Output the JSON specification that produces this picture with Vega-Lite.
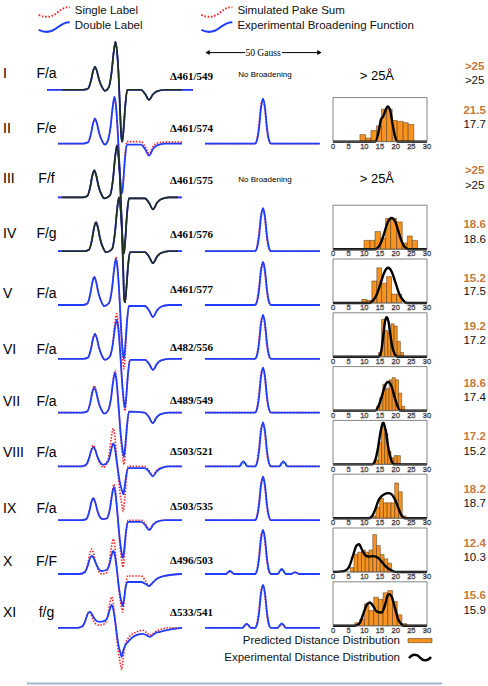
{
"$schema": "https://vega.github.io/schema/vega-lite/v6.json",
"padding": 0,
"background": "white",
"spacing": 9.8,
"bounds": "flush",
"config": {
 "view": {"stroke": null},
 "font": "Liberation Sans",
 "text": {"font": "Liberation Sans"},
 "style": {
  "red": {"strokeWidth": 1.6, "strokeDash": [1.5,1.5], "interpolate": "monotone"},
  "blue": {"strokeWidth": 1.8, "interpolate": "monotone"},
  "dark": {"strokeWidth": 1.6, "interpolate": "monotone"},
  "bar": {"strokeWidth": 0.5},
  "curve": {"strokeWidth": 2.4, "interpolate": "monotone"},
  "frame": {"fillOpacity": 0, "strokeWidth": 0.8},
  "num": {"fontSize": 14, "baseline": "middle", "align": "left"},
  "lab": {"fontSize": 14, "baseline": "middle", "align": "center"},
  "delta": {"font": "Liberation Serif", "fontWeight": "bold", "fontSize": 11, "baseline": "middle", "align": "center"},
  "org": {"fontSize": 11.5, "fontWeight": "bold", "baseline": "middle", "align": "center"},
  "blk": {"fontSize": 11.5, "baseline": "middle", "align": "center"},
  "tick": {"fontSize": 7.5, "strokeWidth": 0.45, "baseline": "middle", "align": "center"}
 }
},
"datasets": {
"rows": [
{"r":"I","lab":"F/a","delta":"Δ461/549","o":">25","b":">25","dist":"> 25Å","nb":"No Broadening"},
{"r":"II","lab":"F/e","delta":"Δ461/574","o":"21.5","b":"17.7"},
{"r":"III","lab":"F/f","delta":"Δ461/575","o":">25","b":">25","dist":"> 25Å","nb":"No Broadening"},
{"r":"IV","lab":"F/g","delta":"Δ461/576","o":"18.6","b":"18.6"},
{"r":"V","lab":"F/a","delta":"Δ461/577","o":"15.2","b":"17.5"},
{"r":"VI","lab":"F/a","delta":"Δ482/556","o":"19.2","b":"17.2"},
{"r":"VII","lab":"F/a","delta":"Δ489/549","o":"18.6","b":"17.4"},
{"r":"VIII","lab":"F/a","delta":"Δ503/521","o":"17.2","b":"15.2"},
{"r":"IX","lab":"F/a","delta":"Δ503/535","o":"18.2","b":"18.7"},
{"r":"X","lab":"F/F","delta":"Δ496/503","o":"12.4","b":"10.3"},
{"r":"XI","lab":"f/g","delta":"Δ533/541","o":"15.6","b":"15.9"}
],
"ticks": [{"t":0},{"t":5},{"t":10},{"t":15},{"t":20},{"t":25},{"t":30}],
"legendTop": [
{"grp":"spectra","n":"1","lbl":"Single Label"},
{"grp":"spectra","n":"2","lbl":"Double Label"},
{"grp":"broadening","n":"1","lbl":"Simulated Pake Sum"},
{"grp":"broadening","n":"2","lbl":"Experimental Broadening Function"}
],
"legendBottom": [
{"grp":"distance","n":"1","lbl":"Predicted Distance Distribution"},
{"grp":"distance","n":"2","lbl":"Experimental Distance Distribution"}
],
"spec": [
{"r":"I","x":-5.5,"s":0,"d":0},
{"r":"I","x":2,"s":0,"d":0,"f":0},
{"r":"I","x":12.5,"s":0,"d":0,"f":0},
{"r":"I","x":15,"s":0.12,"d":0.12,"f":0.12},
{"r":"I","x":16.5,"s":0.92,"d":0.92,"f":0.92},
{"r":"I","x":17.5,"s":1.84,"d":1.84,"f":1.84},
{"r":"I","x":18.5,"s":2.3,"d":2.3,"f":2.3},
{"r":"I","x":19.5,"s":1.84,"d":1.84,"f":1.84},
{"r":"I","x":20.5,"s":1.04,"d":1.04,"f":1.04},
{"r":"I","x":22,"s":0.28,"d":0.28,"f":0.28},
{"r":"I","x":23.5,"s":-0.1,"d":-0.1,"f":-0.1},
{"r":"I","x":25.25,"s":0.2,"d":0.2,"f":0.2},
{"r":"I","x":26.75,"s":1.68,"d":1.68,"f":1.68},
{"r":"I","x":27.75,"s":3.6,"d":3.6,"f":3.6},
{"r":"I","x":28.75,"s":4.8,"d":4.8,"f":4.8},
{"r":"I","x":29.5,"s":3.84,"d":3.84,"f":3.84},
{"r":"I","x":30.25,"s":1.68,"d":1.68,"f":1.68},
{"r":"I","x":31.2,"s":-2.86,"d":-2.86,"f":-2.86},
{"r":"I","x":31.65,"s":-4.68,"d":-4.68,"f":-4.68},
{"r":"I","x":32.15,"s":-5.2,"d":-5.2,"f":-5.2},
{"r":"I","x":32.9,"s":-3.64,"d":-3.64,"f":-3.64},
{"r":"I","x":33.65,"s":-1.56,"d":-1.56,"f":-1.56},
{"r":"I","x":34.65,"s":0,"d":0,"f":0},
{"r":"I","x":41.5,"s":0,"d":0,"f":0},
{"r":"I","x":43.5,"s":-0.4,"d":-0.4,"f":-0.4},
{"r":"I","x":45.5,"s":-1.0,"d":-1.0,"f":-1.0},
{"r":"I","x":47.5,"s":-0.45,"d":-0.45,"f":-0.45},
{"r":"I","x":49.5,"s":-0.15,"d":-0.15,"f":-0.15},
{"r":"I","x":53.5,"s":0,"d":0,"f":0},
{"r":"I","x":62,"s":0,"d":0,"f":0},
{"r":"I","x":67.5,"s":0,"d":0},
{"r":"II","x":0,"s":0,"d":0},
{"r":"II","x":12.5,"s":0,"d":0},
{"r":"II","x":15,"s":0.12,"d":0.12},
{"r":"II","x":16.5,"s":1.0,"d":1.0},
{"r":"II","x":17.5,"s":2.0,"d":2.0},
{"r":"II","x":18.5,"s":2.5,"d":2.5},
{"r":"II","x":19.5,"s":2.0,"d":2.0},
{"r":"II","x":20.5,"s":1.12,"d":1.12},
{"r":"II","x":22,"s":0.3,"d":0.3},
{"r":"II","x":23.5,"s":-0.1,"d":-0.1},
{"r":"II","x":24.75,"s":0.2,"d":0.2},
{"r":"II","x":26.25,"s":1.58,"d":1.65},
{"r":"II","x":27.25,"s":3.38,"d":3.52},
{"r":"II","x":28.25,"s":4.5,"d":4.7},
{"r":"II","x":29,"s":3.6,"d":3.76},
{"r":"II","x":29.75,"s":1.58,"d":1.65},
{"r":"II","x":30.9,"s":-2.75,"d":-2.75},
{"r":"II","x":31.5,"s":-4.5,"d":-4.5},
{"r":"II","x":32,"s":-5.0,"d":-5.0},
{"r":"II","x":32.75,"s":-3.5,"d":-3.5},
{"r":"II","x":33.5,"s":-1.2,"d":-1.5},
{"r":"II","x":34.5,"s":0.2,"d":-0.1},
{"r":"II","x":41.5,"s":0.2,"d":-0.1},
{"r":"II","x":43.5,"s":-0.28,"d":-0.54},
{"r":"II","x":45.5,"s":-1.0,"d":-1.2},
{"r":"II","x":47.5,"s":-0.3,"d":-0.54},
{"r":"II","x":49.5,"s":0.05,"d":-0.18},
{"r":"II","x":53.5,"s":0.15,"d":0},
{"r":"II","x":62,"s":0.15,"d":0},
{"r":"III","x":0,"s":0,"d":0},
{"r":"III","x":2,"s":0,"d":0,"f":0},
{"r":"III","x":12.15,"s":0,"d":0,"f":0},
{"r":"III","x":14.65,"s":0.14,"d":0.14,"f":0.14},
{"r":"III","x":16.15,"s":1.08,"d":1.08,"f":1.08},
{"r":"III","x":17.15,"s":2.16,"d":2.16,"f":2.16},
{"r":"III","x":18.15,"s":2.7,"d":2.7,"f":2.7},
{"r":"III","x":19.15,"s":2.16,"d":2.16,"f":2.16},
{"r":"III","x":20.15,"s":1.22,"d":1.22,"f":1.22},
{"r":"III","x":21.65,"s":0.32,"d":0.32,"f":0.32},
{"r":"III","x":23.15,"s":-0.1,"d":-0.1,"f":-0.1},
{"r":"III","x":26,"s":0.2,"d":0.2,"f":0.2},
{"r":"III","x":27.5,"s":1.82,"d":1.82,"f":1.82},
{"r":"III","x":28.5,"s":3.9,"d":3.9,"f":3.9},
{"r":"III","x":29.5,"s":5.2,"d":5.2,"f":5.2},
{"r":"III","x":30.25,"s":4.16,"d":4.16,"f":4.16},
{"r":"III","x":31,"s":1.82,"d":1.82,"f":1.82},
{"r":"III","x":32,"s":-3.08,"d":-3.08,"f":-3.08},
{"r":"III","x":32.5,"s":-5.04,"d":-5.04,"f":-5.04},
{"r":"III","x":33,"s":-5.6,"d":-5.6,"f":-5.6},
{"r":"III","x":33.75,"s":-3.92,"d":-3.92,"f":-3.92},
{"r":"III","x":34.5,"s":-1.68,"d":-1.68,"f":-1.68},
{"r":"III","x":35.5,"s":-0.1,"d":-0.1,"f":-0.1},
{"r":"III","x":43.5,"s":-0.1,"d":-0.1,"f":-0.1},
{"r":"III","x":45.5,"s":-0.54,"d":-0.54,"f":-0.54},
{"r":"III","x":47.5,"s":-1.2,"d":-1.2,"f":-1.2},
{"r":"III","x":49.5,"s":-0.54,"d":-0.54,"f":-0.54},
{"r":"III","x":51.5,"s":-0.18,"d":-0.18,"f":-0.18},
{"r":"III","x":55.5,"s":0,"d":0,"f":0},
{"r":"III","x":60,"s":0,"d":0,"f":0},
{"r":"III","x":62,"s":0,"d":0},
{"r":"IV","x":0,"s":0,"d":0},
{"r":"IV","x":2,"s":0,"d":0,"f":0},
{"r":"IV","x":13,"s":0,"d":0,"f":0},
{"r":"IV","x":15.5,"s":0.15,"d":0.15,"f":0.15},
{"r":"IV","x":17,"s":1.16,"d":1.16,"f":1.16},
{"r":"IV","x":18,"s":2.32,"d":2.32,"f":2.32},
{"r":"IV","x":19,"s":2.9,"d":2.9,"f":2.9},
{"r":"IV","x":20,"s":2.32,"d":2.32,"f":2.32},
{"r":"IV","x":21,"s":1.3,"d":1.3,"f":1.3},
{"r":"IV","x":22.5,"s":0.35,"d":0.35,"f":0.35},
{"r":"IV","x":24,"s":-0.1,"d":-0.1,"f":-0.1},
{"r":"IV","x":27,"s":0.2,"d":0.2,"f":0.2},
{"r":"IV","x":28.5,"s":1.89,"d":1.89,"f":1.89},
{"r":"IV","x":29.5,"s":4.05,"d":4.05,"f":4.05},
{"r":"IV","x":30.5,"s":5.4,"d":5.4,"f":5.4},
{"r":"IV","x":31.25,"s":4.32,"d":4.32,"f":4.32},
{"r":"IV","x":32,"s":1.89,"d":1.89,"f":1.89},
{"r":"IV","x":32.75,"s":-2.86,"d":-2.8,"f":-2.8},
{"r":"IV","x":33,"s":-4.68,"d":-4.59,"f":-4.59},
{"r":"IV","x":33.5,"s":-5.2,"d":-5.1,"f":-5.1},
{"r":"IV","x":34.25,"s":-3.64,"d":-3.57,"f":-3.57},
{"r":"IV","x":35,"s":-1.56,"d":-1.53,"f":-1.53},
{"r":"IV","x":36,"s":-0.1,"d":-0.1,"f":-0.1},
{"r":"IV","x":43.5,"s":-0.1,"d":-0.1,"f":-0.1},
{"r":"IV","x":45.5,"s":-0.54,"d":-0.54,"f":-0.54},
{"r":"IV","x":47.5,"s":-1.2,"d":-1.2,"f":-1.2},
{"r":"IV","x":49.5,"s":-0.54,"d":-0.54,"f":-0.54},
{"r":"IV","x":51.5,"s":-0.18,"d":-0.18,"f":-0.18},
{"r":"IV","x":55.5,"s":0,"d":0,"f":0},
{"r":"IV","x":60,"s":0,"d":0,"f":0},
{"r":"IV","x":62,"s":0,"d":0},
{"r":"V","x":0,"s":0,"d":0},
{"r":"V","x":12.15,"s":0,"d":0},
{"r":"V","x":14.65,"s":0.14,"d":0.14},
{"r":"V","x":16.15,"s":1.12,"d":1.12},
{"r":"V","x":17.15,"s":2.24,"d":2.24},
{"r":"V","x":18.15,"s":2.8,"d":2.8},
{"r":"V","x":19.15,"s":2.24,"d":2.24},
{"r":"V","x":20.15,"s":1.26,"d":1.26},
{"r":"V","x":21.65,"s":0.34,"d":0.34},
{"r":"V","x":23.15,"s":-0.1,"d":-0.1},
{"r":"V","x":25.5,"s":0.2,"d":0.2},
{"r":"V","x":27,"s":1.68,"d":1.61},
{"r":"V","x":28,"s":3.6,"d":3.45},
{"r":"V","x":29,"s":4.8,"d":4.6},
{"r":"V","x":29.75,"s":3.84,"d":3.68},
{"r":"V","x":30.5,"s":1.68,"d":1.61},
{"r":"V","x":31.75,"s":-3.52,"d":-2.97},
{"r":"V","x":32.5,"s":-5.76,"d":-4.86},
{"r":"V","x":33,"s":-6.4,"d":-5.4},
{"r":"V","x":33.75,"s":-4.48,"d":-3.78},
{"r":"V","x":34.5,"s":-1.92,"d":-1.62},
{"r":"V","x":35.5,"s":-0.1,"d":-0.1},
{"r":"V","x":43.5,"s":-0.1,"d":-0.1},
{"r":"V","x":45.5,"s":-0.54,"d":-0.54},
{"r":"V","x":47.5,"s":-1.2,"d":-1.2},
{"r":"V","x":49.5,"s":-0.54,"d":-0.54},
{"r":"V","x":51.5,"s":-0.18,"d":-0.18},
{"r":"V","x":55.5,"s":0,"d":0},
{"r":"V","x":62,"s":0,"d":0},
{"r":"VI","x":0,"s":0,"d":0},
{"r":"VI","x":12.5,"s":0,"d":0},
{"r":"VI","x":15,"s":0.12,"d":0.12},
{"r":"VI","x":16.5,"s":1.0,"d":1.0},
{"r":"VI","x":17.5,"s":2.0,"d":2.0},
{"r":"VI","x":18.5,"s":2.5,"d":2.5},
{"r":"VI","x":19.5,"s":2.0,"d":2.0},
{"r":"VI","x":20.5,"s":1.12,"d":1.12},
{"r":"VI","x":22,"s":0.3,"d":0.3},
{"r":"VI","x":23.5,"s":-0.1,"d":-0.1},
{"r":"VI","x":25.85,"s":0.2,"d":0.2},
{"r":"VI","x":27.35,"s":1.58,"d":1.37},
{"r":"VI","x":28.35,"s":3.38,"d":2.93},
{"r":"VI","x":29.35,"s":4.5,"d":3.9},
{"r":"VI","x":30.1,"s":3.6,"d":3.12},
{"r":"VI","x":30.85,"s":1.58,"d":1.37},
{"r":"VI","x":32.2,"s":-2.86,"d":-2.7},
{"r":"VI","x":33,"s":-4.68,"d":-4.41},
{"r":"VI","x":33.5,"s":-5.2,"d":-4.9},
{"r":"VI","x":34.25,"s":-3.64,"d":-3.43},
{"r":"VI","x":35,"s":-1.56,"d":-1.47},
{"r":"VI","x":36,"s":-0.1,"d":-0.1},
{"r":"VI","x":43.5,"s":-0.1,"d":-0.1},
{"r":"VI","x":45.5,"s":-0.5,"d":-0.5},
{"r":"VI","x":47.5,"s":-1.1,"d":-1.1},
{"r":"VI","x":49.5,"s":-0.5,"d":-0.5},
{"r":"VI","x":51.5,"s":-0.16,"d":-0.16},
{"r":"VI","x":55.5,"s":0,"d":0},
{"r":"VI","x":62,"s":0,"d":0},
{"r":"VII","x":0,"s":0,"d":0},
{"r":"VII","x":12.15,"s":0,"d":0},
{"r":"VII","x":14.65,"s":0.14,"d":0.12},
{"r":"VII","x":16.15,"s":1.08,"d":1.0},
{"r":"VII","x":17.15,"s":2.16,"d":2.0},
{"r":"VII","x":18.15,"s":2.7,"d":2.5},
{"r":"VII","x":19.15,"s":2.16,"d":2.0},
{"r":"VII","x":20.15,"s":1.22,"d":1.12},
{"r":"VII","x":21.65,"s":0.32,"d":0.3},
{"r":"VII","x":23.15,"s":-0.1,"d":-0.1},
{"r":"VII","x":25,"s":0.2,"d":0.2},
{"r":"VII","x":26.5,"s":1.47,"d":1.4},
{"r":"VII","x":27.5,"s":3.15,"d":3.0},
{"r":"VII","x":28.5,"s":4.2,"d":4.0},
{"r":"VII","x":29.25,"s":3.36,"d":3.2},
{"r":"VII","x":30,"s":1.47,"d":1.4},
{"r":"VII","x":31.5,"s":-2.86,"d":-2.42},
{"r":"VII","x":32.5,"s":-4.68,"d":-3.96},
{"r":"VII","x":33,"s":-5.2,"d":-4.4},
{"r":"VII","x":33.75,"s":-3.64,"d":-3.08},
{"r":"VII","x":34.5,"s":-1.56,"d":-1.32},
{"r":"VII","x":35.5,"s":0.1,"d":0.1},
{"r":"VII","x":43.35,"s":0,"d":0},
{"r":"VII","x":45.35,"s":-0.4,"d":-0.42},
{"r":"VII","x":47.35,"s":-1.0,"d":-1.06},
{"r":"VII","x":49.35,"s":-0.45,"d":-0.48},
{"r":"VII","x":51.35,"s":-0.15,"d":-0.16},
{"r":"VII","x":55.35,"s":0,"d":0},
{"r":"VII","x":62,"s":0,"d":0},
{"r":"VIII","x":0,"s":0,"d":0},
{"r":"VIII","x":11.65,"s":0,"d":0},
{"r":"VIII","x":14.15,"s":0.1,"d":0.2},
{"r":"VIII","x":15.65,"s":0.84,"d":0.9},
{"r":"VIII","x":16.65,"s":1.68,"d":1.6},
{"r":"VIII","x":17.65,"s":2.1,"d":1.9},
{"r":"VIII","x":18.65,"s":1.68,"d":1.65},
{"r":"VIII","x":19.65,"s":0.95,"d":1.0},
{"r":"VIII","x":21.15,"s":0.25,"d":0.4},
{"r":"VIII","x":22.65,"s":-0.1,"d":0.16},
{"r":"VIII","x":24.15,"s":0.2,"d":0.3},
{"r":"VIII","x":25.65,"s":1.33,"d":0.8},
{"r":"VIII","x":26.65,"s":2.85,"d":1.7},
{"r":"VIII","x":27.65,"s":3.8,"d":2.3},
{"r":"VIII","x":28.4,"s":3.04,"d":1.9},
{"r":"VIII","x":29.15,"s":1.33,"d":0.8},
{"r":"VIII","x":30.9,"s":-2.48,"d":-1.54},
{"r":"VIII","x":32.15,"s":-4.05,"d":-2.52},
{"r":"VIII","x":32.65,"s":-4.5,"d":-2.8},
{"r":"VIII","x":33.4,"s":-3.15,"d":-1.96},
{"r":"VIII","x":34.15,"s":-1.35,"d":-0.84},
{"r":"VIII","x":35.15,"s":0,"d":-0.17},
{"r":"VIII","x":43.35,"s":0,"d":-0.17},
{"r":"VIII","x":45.35,"s":-0.36,"d":-0.5},
{"r":"VIII","x":47.35,"s":-0.9,"d":-1.0},
{"r":"VIII","x":49.35,"s":-0.4,"d":-0.5},
{"r":"VIII","x":51.35,"s":-0.14,"d":-0.2},
{"r":"VIII","x":55.35,"s":0,"d":0},
{"r":"VIII","x":62,"s":0,"d":0},
{"r":"IX","x":0,"s":0,"d":0},
{"r":"IX","x":11.65,"s":0,"d":0},
{"r":"IX","x":14.15,"s":0.11,"d":0.11},
{"r":"IX","x":15.65,"s":0.88,"d":0.88},
{"r":"IX","x":16.65,"s":1.76,"d":1.76},
{"r":"IX","x":17.65,"s":2.2,"d":2.2},
{"r":"IX","x":18.65,"s":1.76,"d":1.76},
{"r":"IX","x":19.65,"s":0.99,"d":0.99},
{"r":"IX","x":21.15,"s":0.26,"d":0.26},
{"r":"IX","x":22.65,"s":0.1,"d":0.1},
{"r":"IX","x":24.5,"s":0.2,"d":0.2},
{"r":"IX","x":26,"s":1.26,"d":1.16},
{"r":"IX","x":27,"s":2.7,"d":2.48},
{"r":"IX","x":28,"s":3.6,"d":3.3},
{"r":"IX","x":28.75,"s":2.88,"d":2.64},
{"r":"IX","x":29.5,"s":1.26,"d":1.16},
{"r":"IX","x":31,"s":-2.59,"d":-2.09},
{"r":"IX","x":32,"s":-4.23,"d":-3.42},
{"r":"IX","x":32.5,"s":-4.7,"d":-3.8},
{"r":"IX","x":33.25,"s":-3.29,"d":-2.66},
{"r":"IX","x":34,"s":-1.41,"d":-1.14},
{"r":"IX","x":35,"s":0,"d":-0.17},
{"r":"IX","x":41.65,"s":0,"d":-0.17},
{"r":"IX","x":43.65,"s":-0.36,"d":-0.5},
{"r":"IX","x":45.65,"s":-0.9,"d":-1.0},
{"r":"IX","x":47.65,"s":-0.4,"d":-0.45},
{"r":"IX","x":49.65,"s":-0.14,"d":-0.15},
{"r":"IX","x":53.65,"s":0,"d":0},
{"r":"IX","x":62,"s":0,"d":0},
{"r":"X","x":0,"s":0,"d":0},
{"r":"X","x":10.85,"s":0,"d":0},
{"r":"X","x":13.35,"s":0.12,"d":0.2},
{"r":"X","x":14.85,"s":1.0,"d":0.8},
{"r":"X","x":15.85,"s":2.0,"d":1.5},
{"r":"X","x":16.85,"s":2.5,"d":1.8},
{"r":"X","x":17.85,"s":2.0,"d":1.6},
{"r":"X","x":18.85,"s":1.12,"d":1.1},
{"r":"X","x":20.35,"s":0.3,"d":0.5},
{"r":"X","x":21.85,"s":0,"d":0.3},
{"r":"X","x":24.15,"s":0.1,"d":0.4},
{"r":"X","x":25.65,"s":1.22,"d":0.9},
{"r":"X","x":26.65,"s":2.62,"d":1.75},
{"r":"X","x":27.65,"s":3.5,"d":2.3},
{"r":"X","x":28.4,"s":2.8,"d":1.9},
{"r":"X","x":29.15,"s":1.22,"d":0.9},
{"r":"X","x":30.75,"s":-2.09,"d":-1.76},
{"r":"X","x":31.85,"s":-3.42,"d":-2.88},
{"r":"X","x":32.35,"s":-3.8,"d":-3.2},
{"r":"X","x":33.1,"s":-2.66,"d":-2.4},
{"r":"X","x":33.85,"s":-1.14,"d":-1.3},
{"r":"X","x":34.85,"s":-0.2,"d":-0.8},
{"r":"X","x":41.5,"s":-0.2,"d":-0.8},
{"r":"X","x":43.5,"s":-0.6,"d":-0.96},
{"r":"X","x":45.5,"s":-1.2,"d":-1.2},
{"r":"X","x":47.5,"s":-0.84,"d":-0.84},
{"r":"X","x":49.5,"s":-0.48,"d":-0.48},
{"r":"X","x":53.5,"s":-0.18,"d":-0.18},
{"r":"X","x":62,"s":0,"d":0},
{"r":"XI","x":0,"s":0,"d":0},
{"r":"XI","x":9.65,"s":0,"d":0},
{"r":"XI","x":12.15,"s":0.1,"d":0.15},
{"r":"XI","x":13.65,"s":0.7,"d":0.7},
{"r":"XI","x":14.65,"s":1.35,"d":1.3},
{"r":"XI","x":15.65,"s":1.6,"d":1.6},
{"r":"XI","x":16.65,"s":1.3,"d":1.5},
{"r":"XI","x":17.65,"s":0.75,"d":1.1},
{"r":"XI","x":19.15,"s":0.35,"d":0.7},
{"r":"XI","x":20.65,"s":0.27,"d":0.6},
{"r":"XI","x":23.35,"s":0.4,"d":0.7},
{"r":"XI","x":24.85,"s":1.2,"d":1.1},
{"r":"XI","x":25.85,"s":2.4,"d":1.8},
{"r":"XI","x":26.85,"s":3.1,"d":2.3},
{"r":"XI","x":27.6,"s":2.5,"d":1.9},
{"r":"XI","x":28.35,"s":1.1,"d":1.0},
{"r":"XI","x":30.1,"s":-2.3,"d":-1.6},
{"r":"XI","x":31.35,"s":-3.8,"d":-2.6},
{"r":"XI","x":31.85,"s":-4.2,"d":-2.9},
{"r":"XI","x":32.6,"s":-3.0,"d":-2.3},
{"r":"XI","x":33.5,"s":-1.8,"d":-1.8},
{"r":"XI","x":35,"s":-1.07,"d":-1.4},
{"r":"XI","x":39.5,"s":-0.4,"d":-0.7},
{"r":"XI","x":42.5,"s":-0.25,"d":-0.6},
{"r":"XI","x":46,"s":-0.73,"d":-0.9},
{"r":"XI","x":49,"s":-0.35,"d":-0.5},
{"r":"XI","x":51,"s":-0.2,"d":-0.4},
{"r":"XI","x":55,"s":0,"d":-0.2},
{"r":"XI","x":62,"s":0,"d":0}
],
"broad": [
{"r":"II","x":0,"s":0,"d":0},{"r":"II","x":21.4,"s":0,"d":0},{"r":"II","x":22.24,"s":0.54,"d":0.36},{"r":"II","x":23.1,"s":2.03,"d":1.58},{"r":"II","x":23.95,"s":3.96,"d":3.6},{"r":"II","x":24.8,"s":4.37,"d":4.5},{"r":"II","x":25.65,"s":3.15,"d":3.6},{"r":"II","x":26.5,"s":1.22,"d":1.58},{"r":"II","x":27.36,"s":0.23,"d":0.36},{"r":"II","x":28.2,"s":0,"d":0},{"r":"II","x":49.1,"s":0,"d":0},
{"r":"IV","x":0,"s":0,"d":0},{"r":"IV","x":21.4,"s":0,"d":0},{"r":"IV","x":22.24,"s":0.52,"d":0.34},{"r":"IV","x":23.1,"s":1.94,"d":1.5},{"r":"IV","x":23.95,"s":3.78,"d":3.44},{"r":"IV","x":24.8,"s":4.17,"d":4.3},{"r":"IV","x":25.65,"s":3.01,"d":3.44},{"r":"IV","x":26.5,"s":1.16,"d":1.5},{"r":"IV","x":27.36,"s":0.22,"d":0.34},{"r":"IV","x":28.2,"s":0,"d":0},{"r":"IV","x":49.1,"s":0,"d":0},
{"r":"V","x":0,"s":0,"d":0},{"r":"V","x":21.4,"s":0,"d":0},{"r":"V","x":22.24,"s":0.52,"d":0.34},{"r":"V","x":23.1,"s":1.94,"d":1.5},{"r":"V","x":23.95,"s":3.78,"d":3.44},{"r":"V","x":24.8,"s":4.17,"d":4.3},{"r":"V","x":25.65,"s":3.01,"d":3.44},{"r":"V","x":26.5,"s":1.16,"d":1.5},{"r":"V","x":27.36,"s":0.22,"d":0.34},{"r":"V","x":28.2,"s":0,"d":0},{"r":"V","x":49.1,"s":0,"d":0},
{"r":"VI","x":0,"s":0,"d":0},{"r":"VI","x":21.4,"s":0,"d":0},{"r":"VI","x":22.24,"s":0.53,"d":0.35},{"r":"VI","x":23.1,"s":1.98,"d":1.54},{"r":"VI","x":23.95,"s":3.87,"d":3.52},{"r":"VI","x":24.8,"s":4.27,"d":4.4},{"r":"VI","x":25.65,"s":3.08,"d":3.52},{"r":"VI","x":26.5,"s":1.19,"d":1.54},{"r":"VI","x":27.36,"s":0.22,"d":0.35},{"r":"VI","x":28.2,"s":0,"d":0},{"r":"VI","x":49.1,"s":0,"d":0},
{"r":"VII","x":0,"s":0,"d":0},{"r":"VII","x":21.4,"s":0,"d":0},{"r":"VII","x":22.24,"s":0.54,"d":0.36},{"r":"VII","x":23.1,"s":2.03,"d":1.58},{"r":"VII","x":23.95,"s":3.96,"d":3.6},{"r":"VII","x":24.8,"s":4.37,"d":4.5},{"r":"VII","x":25.65,"s":3.15,"d":3.6},{"r":"VII","x":26.5,"s":1.22,"d":1.58},{"r":"VII","x":27.36,"s":0.23,"d":0.36},{"r":"VII","x":28.2,"s":0,"d":0},{"r":"VII","x":49.1,"s":0,"d":0},
{"r":"VIII","x":0,"s":0,"d":0},{"r":"VIII","x":14.7,"s":0,"d":0},{"r":"VIII","x":15.55,"s":0.18,"d":0.3},{"r":"VIII","x":16.4,"s":0.3,"d":0.5},{"r":"VIII","x":17.25,"s":0.18,"d":0.3},{"r":"VIII","x":18.1,"s":0,"d":0},{"r":"VIII","x":21.4,"s":0,"d":0},{"r":"VIII","x":22.24,"s":0.53,"d":0.35},{"r":"VIII","x":23.1,"s":1.98,"d":1.54},{"r":"VIII","x":23.95,"s":3.87,"d":3.52},{"r":"VIII","x":24.8,"s":4.27,"d":4.4},{"r":"VIII","x":25.65,"s":3.08,"d":3.52},{"r":"VIII","x":26.5,"s":1.19,"d":1.54},{"r":"VIII","x":27.36,"s":0.22,"d":0.35},{"r":"VIII","x":28.2,"s":0,"d":0},{"r":"VIII","x":31.8,"s":0,"d":0},{"r":"VIII","x":32.65,"s":0.18,"d":0.3},{"r":"VIII","x":33.5,"s":0.3,"d":0.5},{"r":"VIII","x":34.35,"s":0.18,"d":0.3},{"r":"VIII","x":35.2,"s":0,"d":0},{"r":"VIII","x":49.1,"s":0,"d":0},
{"r":"IX","x":0,"s":0,"d":0},{"r":"IX","x":21.4,"s":0,"d":0},{"r":"IX","x":22.24,"s":0.52,"d":0.35},{"r":"IX","x":23.1,"s":1.96,"d":1.52},{"r":"IX","x":23.95,"s":3.83,"d":3.48},{"r":"IX","x":24.8,"s":4.22,"d":4.35},{"r":"IX","x":25.65,"s":3.05,"d":3.48},{"r":"IX","x":26.5,"s":1.17,"d":1.52},{"r":"IX","x":27.36,"s":0.22,"d":0.35},{"r":"IX","x":28.2,"s":0,"d":0},{"r":"IX","x":49.1,"s":0,"d":0},
{"r":"X","x":0,"s":0,"d":0},{"r":"X","x":9,"s":0,"d":0},{"r":"X","x":9.85,"s":0.12,"d":0.18},{"r":"X","x":10.7,"s":0.2,"d":0.3},{"r":"X","x":11.55,"s":0.12,"d":0.18},{"r":"X","x":12.4,"s":0,"d":0},{"r":"X","x":21.4,"s":0,"d":0},{"r":"X","x":22.24,"s":0.53,"d":0.35},{"r":"X","x":23.1,"s":1.98,"d":1.54},{"r":"X","x":23.95,"s":3.87,"d":3.52},{"r":"X","x":24.8,"s":4.27,"d":4.4},{"r":"X","x":25.65,"s":3.08,"d":3.52},{"r":"X","x":26.5,"s":1.19,"d":1.54},{"r":"X","x":27.36,"s":0.22,"d":0.35},{"r":"X","x":28.2,"s":0,"d":0},{"r":"X","x":31.1,"s":0,"d":0},{"r":"X","x":31.95,"s":0.21,"d":0.3},{"r":"X","x":32.8,"s":0.35,"d":0.5},{"r":"X","x":33.65,"s":0.21,"d":0.3},{"r":"X","x":34.5,"s":0,"d":0},{"r":"X","x":36.8,"s":0,"d":0},{"r":"X","x":37.65,"s":0.12,"d":0.1},{"r":"X","x":38.5,"s":0.2,"d":0.17},{"r":"X","x":39.35,"s":0.12,"d":0.1},{"r":"X","x":40.2,"s":0,"d":0},{"r":"X","x":49.1,"s":0,"d":0},
{"r":"XI","x":0,"s":0,"d":0},{"r":"XI","x":16.1,"s":0,"d":0},{"r":"XI","x":16.95,"s":0.18,"d":0.24},{"r":"XI","x":17.8,"s":0.3,"d":0.4},{"r":"XI","x":18.65,"s":0.18,"d":0.24},{"r":"XI","x":19.5,"s":0,"d":0},{"r":"XI","x":21.4,"s":0,"d":0},{"r":"XI","x":22.24,"s":0.52,"d":0.34},{"r":"XI","x":23.1,"s":1.94,"d":1.5},{"r":"XI","x":23.95,"s":3.78,"d":3.44},{"r":"XI","x":24.8,"s":4.17,"d":4.3},{"r":"XI","x":25.65,"s":3.01,"d":3.44},{"r":"XI","x":26.5,"s":1.16,"d":1.5},{"r":"XI","x":27.36,"s":0.22,"d":0.34},{"r":"XI","x":28.2,"s":0,"d":0},{"r":"XI","x":31.1,"s":0,"d":0},{"r":"XI","x":31.95,"s":0.18,"d":0.26},{"r":"XI","x":32.8,"s":0.3,"d":0.43},{"r":"XI","x":33.65,"s":0.18,"d":0.26},{"r":"XI","x":34.5,"s":0,"d":0},{"r":"XI","x":49.1,"s":0,"d":0}
],
"bars": [
{"r":"II","a":8.6,"b":10.4,"h":0.16},{"r":"II","a":10.4,"b":12.1,"h":0.08},{"r":"II","a":12.1,"b":13.9,"h":0.25},{"r":"II","a":13.9,"b":15.5,"h":0.36},{"r":"II","a":15.5,"b":17.1,"h":0.74},{"r":"II","a":17.1,"b":18.9,"h":0.74},{"r":"II","a":18.9,"b":20.5,"h":0.48},{"r":"II","a":20.5,"b":22.4,"h":0.46},{"r":"II","a":22.4,"b":24,"h":0.43},{"r":"II","a":24,"b":25.8,"h":0.39},
{"r":"IV","a":9.9,"b":11.8,"h":0.2},{"r":"IV","a":11.8,"b":13.4,"h":0.2},{"r":"IV","a":13.4,"b":15.2,"h":0.4},{"r":"IV","a":15.2,"b":16.8,"h":0.25},{"r":"IV","a":16.8,"b":18.4,"h":0.7},{"r":"IV","a":18.4,"b":20.3,"h":0.7},{"r":"IV","a":20.3,"b":22.1,"h":0.62},{"r":"IV","a":22.1,"b":23.7,"h":0.14},{"r":"IV","a":23.7,"b":25.3,"h":0.3},{"r":"IV","a":25.3,"b":27,"h":0.2},
{"r":"V","a":9.2,"b":10.8,"h":0.08},{"r":"V","a":10.8,"b":12.4,"h":0.06},{"r":"V","a":12.4,"b":14,"h":0.5},{"r":"V","a":14,"b":15.5,"h":0.8},{"r":"V","a":15.5,"b":17.1,"h":0.45},{"r":"V","a":17.1,"b":18.7,"h":0.6},{"r":"V","a":18.7,"b":20.3,"h":0.2},{"r":"V","a":20.3,"b":21.9,"h":0.2},
{"r":"VI","a":14.5,"b":15.5,"h":0.1},{"r":"VI","a":15.5,"b":16.5,"h":0.85},{"r":"VI","a":16.5,"b":17.5,"h":0.6},{"r":"VI","a":17.5,"b":18.5,"h":0.55},{"r":"VI","a":18.5,"b":19.5,"h":0.75},{"r":"VI","a":19.5,"b":20.5,"h":0.7},{"r":"VI","a":20.5,"b":21.5,"h":0.35},{"r":"VI","a":21.5,"b":22.5,"h":0.1},
{"r":"VII","a":13.9,"b":14.9,"h":0.1},{"r":"VII","a":14.9,"b":15.9,"h":0.3},{"r":"VII","a":15.9,"b":16.9,"h":0.6},{"r":"VII","a":16.9,"b":17.9,"h":0.5},{"r":"VII","a":17.9,"b":18.9,"h":0.7},{"r":"VII","a":18.9,"b":19.9,"h":0.75},{"r":"VII","a":19.9,"b":20.9,"h":0.7},{"r":"VII","a":20.9,"b":21.9,"h":0.4},{"r":"VII","a":21.9,"b":22.9,"h":0.1},
{"r":"VIII","a":13.5,"b":14.5,"h":0.1},{"r":"VIII","a":14.5,"b":15.5,"h":0.5},{"r":"VIII","a":15.5,"b":16.5,"h":0.95},{"r":"VIII","a":16.5,"b":17.5,"h":0.7},{"r":"VIII","a":17.5,"b":18.5,"h":0.3},{"r":"VIII","a":18.5,"b":19.5,"h":0.15},{"r":"VIII","a":19.5,"b":20.5,"h":0.2},{"r":"VIII","a":20.5,"b":21.5,"h":0.2},
{"r":"IX","a":12.5,"b":13.7,"h":0.05},{"r":"IX","a":13.7,"b":14.9,"h":0.25},{"r":"IX","a":14.9,"b":16.1,"h":0.45},{"r":"IX","a":16.1,"b":17.3,"h":0.35},{"r":"IX","a":17.3,"b":18.5,"h":0.35},{"r":"IX","a":18.5,"b":19.7,"h":0.35},{"r":"IX","a":19.7,"b":20.9,"h":0.8},{"r":"IX","a":20.9,"b":22.1,"h":0.6},{"r":"IX","a":22.1,"b":23.3,"h":0.05},
{"r":"X","a":5.5,"b":6.7,"h":0.1},{"r":"X","a":6.7,"b":7.9,"h":0.4},{"r":"X","a":7.9,"b":9.1,"h":0.45},{"r":"X","a":9.1,"b":10.3,"h":0.5},{"r":"X","a":10.3,"b":11.5,"h":0.45},{"r":"X","a":11.5,"b":12.7,"h":0.5},{"r":"X","a":12.7,"b":13.9,"h":0.85},{"r":"X","a":13.9,"b":15.1,"h":0.6},{"r":"X","a":15.1,"b":16.3,"h":0.4},{"r":"X","a":16.3,"b":17.5,"h":0.3},{"r":"X","a":17.5,"b":18.7,"h":0.2},
{"r":"XI","a":7,"b":8.5,"h":0.07},{"r":"XI","a":8.5,"b":10,"h":0.15},{"r":"XI","a":10,"b":11.5,"h":0.5},{"r":"XI","a":11.5,"b":13,"h":0.35},{"r":"XI","a":13,"b":14.5,"h":0.65},{"r":"XI","a":14.5,"b":16,"h":0.6},{"r":"XI","a":16,"b":17.5,"h":0.75},{"r":"XI","a":17.5,"b":19,"h":0.8},{"r":"XI","a":19,"b":20.5,"h":0.55},{"r":"XI","a":20.5,"b":22,"h":0.25},{"r":"XI","a":22,"b":23.5,"h":0.05}
],
"curves": [
{"r":"II","x":0,"y":0},{"r":"II","x":13.5,"y":0},{"r":"II","x":14.5,"y":0.2},{"r":"II","x":15.3,"y":0.5},{"r":"II","x":16,"y":0.57},{"r":"II","x":16.7,"y":0.7},{"r":"II","x":17.4,"y":0.8},{"r":"II","x":18.2,"y":0.72},{"r":"II","x":19,"y":0.4},{"r":"II","x":19.8,"y":0.12},{"r":"II","x":20.6,"y":0},{"r":"II","x":30,"y":0},
{"r":"IV","x":0,"y":0},{"r":"IV","x":13.5,"y":0},{"r":"IV","x":14.5,"y":0.05},{"r":"IV","x":15.5,"y":0.18},{"r":"IV","x":16.5,"y":0.4},{"r":"IV","x":17.5,"y":0.62},{"r":"IV","x":18.7,"y":0.71},{"r":"IV","x":19.9,"y":0.62},{"r":"IV","x":20.9,"y":0.4},{"r":"IV","x":21.9,"y":0.18},{"r":"IV","x":22.9,"y":0.05},{"r":"IV","x":24,"y":0},{"r":"IV","x":30,"y":0},
{"r":"V","x":0,"y":0},{"r":"V","x":11.5,"y":0},{"r":"V","x":12.8,"y":0.06},{"r":"V","x":14,"y":0.2},{"r":"V","x":15.2,"y":0.45},{"r":"V","x":16.4,"y":0.7},{"r":"V","x":17.6,"y":0.8},{"r":"V","x":18.8,"y":0.7},{"r":"V","x":20,"y":0.45},{"r":"V","x":21.2,"y":0.2},{"r":"V","x":22.4,"y":0.06},{"r":"V","x":23.6,"y":0},{"r":"V","x":30,"y":0},
{"r":"VI","x":0,"y":0},{"r":"VI","x":14.5,"y":0},{"r":"VI","x":15.3,"y":0.1},{"r":"VI","x":16,"y":0.45},{"r":"VI","x":16.6,"y":0.8},{"r":"VI","x":17.1,"y":0.9},{"r":"VI","x":17.7,"y":0.8},{"r":"VI","x":18.3,"y":0.5},{"r":"VI","x":19,"y":0.2},{"r":"VI","x":19.8,"y":0.05},{"r":"VI","x":20.5,"y":0},{"r":"VI","x":30,"y":0},
{"r":"VII","x":0,"y":0},{"r":"VII","x":13.5,"y":0},{"r":"VII","x":14.5,"y":0.1},{"r":"VII","x":15.5,"y":0.3},{"r":"VII","x":16.5,"y":0.55},{"r":"VII","x":17.6,"y":0.65},{"r":"VII","x":18.7,"y":0.55},{"r":"VII","x":19.7,"y":0.3},{"r":"VII","x":20.6,"y":0.1},{"r":"VII","x":21.5,"y":0},{"r":"VII","x":30,"y":0},
{"r":"VIII","x":0,"y":0},{"r":"VIII","x":12.5,"y":0},{"r":"VIII","x":13.5,"y":0.1},{"r":"VIII","x":14.3,"y":0.35},{"r":"VIII","x":15.2,"y":0.75},{"r":"VIII","x":16,"y":0.95},{"r":"VIII","x":16.8,"y":0.78},{"r":"VIII","x":17.6,"y":0.4},{"r":"VIII","x":18.5,"y":0.12},{"r":"VIII","x":19.5,"y":0},{"r":"VIII","x":30,"y":0},
{"r":"IX","x":0,"y":0},{"r":"IX","x":11.5,"y":0},{"r":"IX","x":12.5,"y":0.05},{"r":"IX","x":13.5,"y":0.2},{"r":"IX","x":14.5,"y":0.4},{"r":"IX","x":15.5,"y":0.5},{"r":"IX","x":16.5,"y":0.55},{"r":"IX","x":17.6,"y":0.57},{"r":"IX","x":18.6,"y":0.55},{"r":"IX","x":19.6,"y":0.45},{"r":"IX","x":20.5,"y":0.3},{"r":"IX","x":21.3,"y":0.15},{"r":"IX","x":22,"y":0.05},{"r":"IX","x":23,"y":0},{"r":"IX","x":30,"y":0},
{"r":"X","x":0,"y":0},{"r":"X","x":3.5,"y":0.02},{"r":"X","x":5,"y":0.1},{"r":"X","x":6.5,"y":0.4},{"r":"X","x":7.5,"y":0.6},{"r":"X","x":8.3,"y":0.63},{"r":"X","x":9.3,"y":0.5},{"r":"X","x":10.3,"y":0.38},{"r":"X","x":11.5,"y":0.35},{"r":"X","x":12.7,"y":0.36},{"r":"X","x":13.7,"y":0.35},{"r":"X","x":15,"y":0.28},{"r":"X","x":16.5,"y":0.15},{"r":"X","x":18,"y":0.06},{"r":"X","x":19.5,"y":0.01},{"r":"X","x":20.5,"y":0},{"r":"X","x":30,"y":0},
{"r":"XI","x":0,"y":0},{"r":"XI","x":7,"y":0},{"r":"XI","x":8.5,"y":0.06},{"r":"XI","x":9.8,"y":0.3},{"r":"XI","x":11,"y":0.5},{"r":"XI","x":11.8,"y":0.53},{"r":"XI","x":12.8,"y":0.45},{"r":"XI","x":14,"y":0.32},{"r":"XI","x":15.5,"y":0.3},{"r":"XI","x":16.5,"y":0.45},{"r":"XI","x":17.4,"y":0.68},{"r":"XI","x":18,"y":0.72},{"r":"XI","x":18.8,"y":0.65},{"r":"XI","x":19.8,"y":0.4},{"r":"XI","x":20.8,"y":0.15},{"r":"XI","x":21.8,"y":0.04},{"r":"XI","x":22.5,"y":0},{"r":"XI","x":30,"y":0}
]
},
"vconcat": [
{"width":488,"height":33.4,"data":{"name":"legendTop"},
 "encoding":{"x":{"field":"grp","type":"nominal","scale":{"type":"point","domain":["spectra","broadening"],"padding":1.2063,"align":0.16667},"axis":null},
  "y":{"field":"n","type":"nominal","scale":{"type":"point","domain":["1","2"],"padding":0.6133,"align":0.598},"axis":null}},
 "layer":[
  {"transform":[{"filter":"datum.n=='1'"}],"mark":{"type":"point","shape":"M-1,0.25 C-0.5,0.5 -0.1,0.35 0.2,0.1 S0.7,-0.25 1,-0.25","size":961,"filled":false,"stroke":"#ff2020","strokeWidth":2,"strokeDash":[1.5,1.8],"opacity":1}},
  {"transform":[{"filter":"datum.n=='2'"}],"mark":{"type":"point","shape":"M-1,0.25 C-0.5,0.5 -0.1,0.35 0.2,0.1 S0.7,-0.25 1,-0.25","size":961,"filled":false,"stroke":"#1f3dff","strokeWidth":2,"opacity":1}},
  {"mark":{"type":"text","align":"left","baseline":"middle","dx":20.5,"fontSize":11.5,"fill":"#111"},"encoding":{"text":{"field":"lbl"}}}
 ]},
{"width":488,"height":44,"resolve":{"scale":{"x":"independent","y":"independent"}},"layer":[
 {"layer":[
  {"data":{"name":"spec"},"transform":[{"filter":"datum.r=='I'"}],"mark":{"type":"line","style":"red","stroke":"#ff2020"},"encoding":{"x":{"field":"x","type":"quantitative","scale":{"domain":[0,62],"range":[58,182],"nice":false,"zero":false},"axis":null},"y":{"field":"s","type":"quantitative","scale":{"domain":[0.2,4.6],"nice":false,"zero":false},"axis":null}}},
  {"data":{"name":"spec"},"transform":[{"filter":"datum.r=='I'"}],"mark":{"type":"line","style":"blue","stroke":"#1f3dff"},"encoding":{"x":{"field":"x","type":"quantitative","axis":null},"y":{"field":"d","type":"quantitative","axis":null}}},
  {"data":{"name":"spec"},"transform":[{"filter":"datum.r=='I'"}],"mark":{"type":"line","style":"dark","stroke":"#1c2e1c"},"encoding":{"x":{"field":"x","type":"quantitative","axis":null},"y":{"field":"f","type":"quantitative","axis":null}}},
  {"data":{"name":"rows"},"transform":[{"filter":"datum.r=='I'"}],"mark":{"type":"text","style":"num"},"encoding":{"x":{"datum":-27.5,"axis":null},"y":{"datum":1.62,"axis":null},"text":{"field":"r"}}},
  {"data":{"name":"rows"},"transform":[{"filter":"datum.r=='I'"}],"mark":{"type":"text","style":"lab"},"encoding":{"x":{"datum":-5.75,"axis":null},"y":{"datum":1.62,"axis":null},"text":{"field":"lab"}}},
  {"data":{"name":"rows"},"transform":[{"filter":"datum.r=='I'"}],"mark":{"type":"text","style":"delta"},"encoding":{"x":{"datum":66.75,"axis":null},"y":{"datum":1.25,"axis":null},"text":{"field":"delta"}}}
 ]},
 {"layer":[
  {"data":{"name":"rows"},"transform":[{"filter":"datum.r=='I'"}],"mark":{"type":"text","fontSize":8,"align":"center","baseline":"middle"},"encoding":{"x":{"datum":25.6,"scale":{"domain":[0,50],"range":[205,322],"nice":false,"zero":false},"axis":null},"y":{"datum":1.52,"scale":{"domain":[0.2,4.6],"nice":false,"zero":false},"axis":null},"text":{"field":"nb"}}},
  {"data":{"name":"rows"},"transform":[{"filter":"datum.r=='I'"}],"mark":{"type":"rule","stroke":"#000","strokeWidth":1},"encoding":{"x":{"datum":0.5,"axis":null},"x2":{"datum":17.1},"y":{"datum":3.72,"axis":null}}},
  {"data":{"name":"rows"},"transform":[{"filter":"datum.r=='I'"}],"mark":{"type":"rule","stroke":"#000","strokeWidth":1},"encoding":{"x":{"datum":32.9,"axis":null},"x2":{"datum":49.5},"y":{"datum":3.72,"axis":null}}},
  {"data":{"name":"rows"},"transform":[{"filter":"datum.r=='I'"}],"mark":{"type":"point","shape":"triangle-left","size":25,"filled":true,"fill":"#000","opacity":1},"encoding":{"x":{"datum":1.1,"axis":null},"y":{"datum":3.72,"axis":null}}},
  {"data":{"name":"rows"},"transform":[{"filter":"datum.r=='I'"}],"mark":{"type":"point","shape":"triangle-right","size":25,"filled":true,"fill":"#000","opacity":1},"encoding":{"x":{"datum":48.9,"axis":null},"y":{"datum":3.72,"axis":null}}},
  {"data":{"name":"rows"},"transform":[{"filter":"datum.r=='I'"}],"mark":{"type":"text","font":"Liberation Serif","fontSize":9.5,"align":"center","baseline":"middle"},"encoding":{"x":{"datum":24.8,"axis":null},"y":{"datum":3.72,"axis":null},"text":{"value":"50 Gauss"}}}
 ]},
 {"layer":[
  {"data":{"name":"rows"},"transform":[{"filter":"datum.r=='I'"}],"mark":{"type":"text","fontSize":13,"align":"center","baseline":"middle"},"encoding":{"x":{"datum":14,"scale":{"domain":[0,30],"range":[333,427],"nice":false,"zero":false},"axis":null},"y":{"datum":0.277,"scale":{"domain":[0,1],"nice":false,"zero":false},"axis":null},"text":{"field":"dist"}}},
  {"data":{"name":"rows"},"transform":[{"filter":"datum.r=='I'"}],"mark":{"type":"text","style":"org","fill":"#c47b3c"},"encoding":{"x":{"datum":45.2,"axis":null},"y":{"datum":0.482,"axis":null},"text":{"field":"o"}}},
  {"data":{"name":"rows"},"transform":[{"filter":"datum.r=='I'"}],"mark":{"type":"text","style":"blk","fill":"#111"},"encoding":{"x":{"datum":45.2,"axis":null},"y":{"datum":0.164,"axis":null},"text":{"field":"b"}}}
 ]}
]},
{"width":488,"height":44,"resolve":{"scale":{"x":"independent","y":"independent"}},"layer":[
 {"layer":[
  {"data":{"name":"spec"},"transform":[{"filter":"datum.r=='II'"}],"mark":{"type":"line","style":"red","stroke":"#ff2020"},"encoding":{"x":{"field":"x","type":"quantitative","scale":{"domain":[0,62],"range":[58,182],"nice":false,"zero":false},"axis":null},"y":{"field":"s","type":"quantitative","scale":{"domain":[0.2,4.6],"nice":false,"zero":false},"axis":null}}},
  {"data":{"name":"spec"},"transform":[{"filter":"datum.r=='II'"}],"mark":{"type":"line","style":"blue","stroke":"#1f3dff"},"encoding":{"x":{"field":"x","type":"quantitative","axis":null},"y":{"field":"d","type":"quantitative","axis":null}}},
  {"data":{"name":"rows"},"transform":[{"filter":"datum.r=='II'"}],"mark":{"type":"text","style":"num"},"encoding":{"x":{"datum":-27.5,"axis":null},"y":{"datum":1.5,"axis":null},"text":{"field":"r"}}},
  {"data":{"name":"rows"},"transform":[{"filter":"datum.r=='II'"}],"mark":{"type":"text","style":"lab"},"encoding":{"x":{"datum":-5.75,"axis":null},"y":{"datum":1.5,"axis":null},"text":{"field":"lab"}}},
  {"data":{"name":"rows"},"transform":[{"filter":"datum.r=='II'"}],"mark":{"type":"text","style":"delta"},"encoding":{"x":{"datum":66.75,"axis":null},"y":{"datum":1.47,"axis":null},"text":{"field":"delta"}}}
 ]},
 {"layer":[
  {"data":{"name":"broad"},"transform":[{"filter":"datum.r=='II'"}],"mark":{"type":"line","style":"red","stroke":"#ff2020"},"encoding":{"x":{"field":"x","type":"quantitative","scale":{"domain":[0,50],"range":[205,322],"nice":false,"zero":false},"axis":null},"y":{"field":"s","type":"quantitative","scale":{"domain":[0.2,4.6],"nice":false,"zero":false},"axis":null}}},
  {"data":{"name":"broad"},"transform":[{"filter":"datum.r=='II'"}],"mark":{"type":"line","style":"blue","stroke":"#1f3dff"},"encoding":{"x":{"field":"x","type":"quantitative","axis":null},"y":{"field":"d","type":"quantitative","axis":null}}}
 ]},
 {"layer":[
  {"data":{"name":"bars"},"transform":[{"filter":"datum.r=='II'"}],"mark":{"type":"rect","style":"bar","fill":"#f7931e","stroke":"#4a3520"},"encoding":{"x":{"field":"a","type":"quantitative","scale":{"domain":[0,30],"range":[333,427],"nice":false,"zero":false},"axis":null},"x2":{"field":"b"},"y":{"field":"h","type":"quantitative","scale":{"domain":[0,1],"nice":false,"zero":false},"axis":null},"y2":{"datum":0}}},
  {"data":{"name":"curves"},"transform":[{"filter":"datum.r=='II'"}],"mark":{"type":"line","style":"curve","stroke":"#000"},"encoding":{"x":{"field":"x","type":"quantitative","axis":null},"y":{"field":"y","type":"quantitative","axis":null}}},
  {"data":{"name":"rows"},"transform":[{"filter":"datum.r=='II'"}],"mark":{"type":"rect","style":"frame","stroke":"#666"},"encoding":{"x":{"datum":0,"axis":null},"x2":{"datum":30},"y":{"datum":0,"axis":null},"y2":{"datum":1}}},
  {"data":{"name":"ticks"},"mark":{"type":"text","style":"tick","fill":"#fff","stroke":"#333"},"encoding":{"x":{"field":"t","type":"quantitative","axis":null},"y":{"datum":-0.12,"axis":null},"text":{"field":"t"}}},
  {"data":{"name":"rows"},"transform":[{"filter":"datum.r=='II'"}],"mark":{"type":"text","style":"org","fill":"#c47b3c"},"encoding":{"x":{"datum":45.2,"axis":null},"y":{"datum":0.705,"axis":null},"text":{"field":"o"}}},
  {"data":{"name":"rows"},"transform":[{"filter":"datum.r=='II'"}],"mark":{"type":"text","style":"blk","fill":"#111"},"encoding":{"x":{"datum":45.2,"axis":null},"y":{"datum":0.386,"axis":null},"text":{"field":"b"}}}
 ]}
]},
{"width":488,"height":44,"resolve":{"scale":{"x":"independent","y":"independent"}},"layer":[
 {"layer":[
  {"data":{"name":"spec"},"transform":[{"filter":"datum.r=='III'"}],"mark":{"type":"line","style":"red","stroke":"#ff2020"},"encoding":{"x":{"field":"x","type":"quantitative","scale":{"domain":[0,62],"range":[58,182],"nice":false,"zero":false},"axis":null},"y":{"field":"s","type":"quantitative","scale":{"domain":[0.2,4.6],"nice":false,"zero":false},"axis":null}}},
  {"data":{"name":"spec"},"transform":[{"filter":"datum.r=='III'"}],"mark":{"type":"line","style":"blue","stroke":"#1f3dff"},"encoding":{"x":{"field":"x","type":"quantitative","axis":null},"y":{"field":"d","type":"quantitative","axis":null}}},
  {"data":{"name":"spec"},"transform":[{"filter":"datum.r=='III'"}],"mark":{"type":"line","style":"dark","stroke":"#1c2e1c"},"encoding":{"x":{"field":"x","type":"quantitative","axis":null},"y":{"field":"f","type":"quantitative","axis":null}}},
  {"data":{"name":"rows"},"transform":[{"filter":"datum.r=='III'"}],"mark":{"type":"text","style":"num"},"encoding":{"x":{"datum":-27.5,"axis":null},"y":{"datum":1.85,"axis":null},"text":{"field":"r"}}},
  {"data":{"name":"rows"},"transform":[{"filter":"datum.r=='III'"}],"mark":{"type":"text","style":"lab"},"encoding":{"x":{"datum":-5.75,"axis":null},"y":{"datum":1.85,"axis":null},"text":{"field":"lab"}}},
  {"data":{"name":"rows"},"transform":[{"filter":"datum.r=='III'"}],"mark":{"type":"text","style":"delta"},"encoding":{"x":{"datum":66.75,"axis":null},"y":{"datum":1.61,"axis":null},"text":{"field":"delta"}}}
 ]},
 {"layer":[
  {"data":{"name":"rows"},"transform":[{"filter":"datum.r=='III'"}],"mark":{"type":"text","fontSize":8,"align":"center","baseline":"middle"},"encoding":{"x":{"datum":25.6,"scale":{"domain":[0,50],"range":[205,322],"nice":false,"zero":false},"axis":null},"y":{"datum":1.75,"scale":{"domain":[0.2,4.6],"nice":false,"zero":false},"axis":null},"text":{"field":"nb"}}}
 ]},
 {"layer":[
  {"data":{"name":"rows"},"transform":[{"filter":"datum.r=='III'"}],"mark":{"type":"text","fontSize":13,"align":"center","baseline":"middle"},"encoding":{"x":{"datum":14,"scale":{"domain":[0,30],"range":[333,427],"nice":false,"zero":false},"axis":null},"y":{"datum":0.375,"scale":{"domain":[0,1],"nice":false,"zero":false},"axis":null},"text":{"field":"dist"}}},
  {"data":{"name":"rows"},"transform":[{"filter":"datum.r=='III'"}],"mark":{"type":"text","style":"org","fill":"#c47b3c"},"encoding":{"x":{"datum":45.2,"axis":null},"y":{"datum":0.564,"axis":null},"text":{"field":"o"}}},
  {"data":{"name":"rows"},"transform":[{"filter":"datum.r=='III'"}],"mark":{"type":"text","style":"blk","fill":"#111"},"encoding":{"x":{"datum":45.2,"axis":null},"y":{"datum":0.223,"axis":null},"text":{"field":"b"}}}
 ]}
]},
{"width":488,"height":44,"resolve":{"scale":{"x":"independent","y":"independent"}},"layer":[
 {"layer":[
  {"data":{"name":"spec"},"transform":[{"filter":"datum.r=='IV'"}],"mark":{"type":"line","style":"red","stroke":"#ff2020"},"encoding":{"x":{"field":"x","type":"quantitative","scale":{"domain":[0,62],"range":[58,182],"nice":false,"zero":false},"axis":null},"y":{"field":"s","type":"quantitative","scale":{"domain":[0.2,4.6],"nice":false,"zero":false},"axis":null}}},
  {"data":{"name":"spec"},"transform":[{"filter":"datum.r=='IV'"}],"mark":{"type":"line","style":"blue","stroke":"#1f3dff"},"encoding":{"x":{"field":"x","type":"quantitative","axis":null},"y":{"field":"d","type":"quantitative","axis":null}}},
  {"data":{"name":"spec"},"transform":[{"filter":"datum.r=='IV'"}],"mark":{"type":"line","style":"dark","stroke":"#1c2e1c"},"encoding":{"x":{"field":"x","type":"quantitative","axis":null},"y":{"field":"f","type":"quantitative","axis":null}}},
  {"data":{"name":"rows"},"transform":[{"filter":"datum.r=='IV'"}],"mark":{"type":"text","style":"num"},"encoding":{"x":{"datum":-27.5,"axis":null},"y":{"datum":1.73,"axis":null},"text":{"field":"r"}}},
  {"data":{"name":"rows"},"transform":[{"filter":"datum.r=='IV'"}],"mark":{"type":"text","style":"lab"},"encoding":{"x":{"datum":-5.75,"axis":null},"y":{"datum":1.73,"axis":null},"text":{"field":"lab"}}},
  {"data":{"name":"rows"},"transform":[{"filter":"datum.r=='IV'"}],"mark":{"type":"text","style":"delta"},"encoding":{"x":{"datum":66.75,"axis":null},"y":{"datum":1.63,"axis":null},"text":{"field":"delta"}}}
 ]},
 {"layer":[
  {"data":{"name":"broad"},"transform":[{"filter":"datum.r=='IV'"}],"mark":{"type":"line","style":"red","stroke":"#ff2020"},"encoding":{"x":{"field":"x","type":"quantitative","scale":{"domain":[0,50],"range":[205,322],"nice":false,"zero":false},"axis":null},"y":{"field":"s","type":"quantitative","scale":{"domain":[0.2,4.6],"nice":false,"zero":false},"axis":null}}},
  {"data":{"name":"broad"},"transform":[{"filter":"datum.r=='IV'"}],"mark":{"type":"line","style":"blue","stroke":"#1f3dff"},"encoding":{"x":{"field":"x","type":"quantitative","axis":null},"y":{"field":"d","type":"quantitative","axis":null}}}
 ]},
 {"layer":[
  {"data":{"name":"bars"},"transform":[{"filter":"datum.r=='IV'"}],"mark":{"type":"rect","style":"bar","fill":"#f7931e","stroke":"#4a3520"},"encoding":{"x":{"field":"a","type":"quantitative","scale":{"domain":[0,30],"range":[333,427],"nice":false,"zero":false},"axis":null},"x2":{"field":"b"},"y":{"field":"h","type":"quantitative","scale":{"domain":[0,1],"nice":false,"zero":false},"axis":null},"y2":{"datum":0}}},
  {"data":{"name":"curves"},"transform":[{"filter":"datum.r=='IV'"}],"mark":{"type":"line","style":"curve","stroke":"#000"},"encoding":{"x":{"field":"x","type":"quantitative","axis":null},"y":{"field":"y","type":"quantitative","axis":null}}},
  {"data":{"name":"rows"},"transform":[{"filter":"datum.r=='IV'"}],"mark":{"type":"rect","style":"frame","stroke":"#666"},"encoding":{"x":{"datum":0,"axis":null},"x2":{"datum":30},"y":{"datum":0,"axis":null},"y2":{"datum":1}}},
  {"data":{"name":"ticks"},"mark":{"type":"text","style":"tick","fill":"#fff","stroke":"#333"},"encoding":{"x":{"field":"t","type":"quantitative","axis":null},"y":{"datum":-0.12,"axis":null},"text":{"field":"t"}}},
  {"data":{"name":"rows"},"transform":[{"filter":"datum.r=='IV'"}],"mark":{"type":"text","style":"org","fill":"#c47b3c"},"encoding":{"x":{"datum":45.2,"axis":null},"y":{"datum":0.552,"axis":null},"text":{"field":"o"}}},
  {"data":{"name":"rows"},"transform":[{"filter":"datum.r=='IV'"}],"mark":{"type":"text","style":"blk","fill":"#111"},"encoding":{"x":{"datum":45.2,"axis":null},"y":{"datum":0.218,"axis":null},"text":{"field":"b"}}}
 ]}
]},
{"width":488,"height":44,"resolve":{"scale":{"x":"independent","y":"independent"}},"layer":[
 {"layer":[
  {"data":{"name":"spec"},"transform":[{"filter":"datum.r=='V'"}],"mark":{"type":"line","style":"red","stroke":"#ff2020"},"encoding":{"x":{"field":"x","type":"quantitative","scale":{"domain":[0,62],"range":[58,182],"nice":false,"zero":false},"axis":null},"y":{"field":"s","type":"quantitative","scale":{"domain":[0.2,4.6],"nice":false,"zero":false},"axis":null}}},
  {"data":{"name":"spec"},"transform":[{"filter":"datum.r=='V'"}],"mark":{"type":"line","style":"blue","stroke":"#1f3dff"},"encoding":{"x":{"field":"x","type":"quantitative","axis":null},"y":{"field":"d","type":"quantitative","axis":null}}},
  {"data":{"name":"rows"},"transform":[{"filter":"datum.r=='V'"}],"mark":{"type":"text","style":"num"},"encoding":{"x":{"datum":-27.5,"axis":null},"y":{"datum":1.11,"axis":null},"text":{"field":"r"}}},
  {"data":{"name":"rows"},"transform":[{"filter":"datum.r=='V'"}],"mark":{"type":"text","style":"lab"},"encoding":{"x":{"datum":-5.75,"axis":null},"y":{"datum":1.11,"axis":null},"text":{"field":"lab"}}},
  {"data":{"name":"rows"},"transform":[{"filter":"datum.r=='V'"}],"mark":{"type":"text","style":"delta"},"encoding":{"x":{"datum":66.75,"axis":null},"y":{"datum":1.51,"axis":null},"text":{"field":"delta"}}}
 ]},
 {"layer":[
  {"data":{"name":"broad"},"transform":[{"filter":"datum.r=='V'"}],"mark":{"type":"line","style":"red","stroke":"#ff2020"},"encoding":{"x":{"field":"x","type":"quantitative","scale":{"domain":[0,50],"range":[205,322],"nice":false,"zero":false},"axis":null},"y":{"field":"s","type":"quantitative","scale":{"domain":[0.2,4.6],"nice":false,"zero":false},"axis":null}}},
  {"data":{"name":"broad"},"transform":[{"filter":"datum.r=='V'"}],"mark":{"type":"line","style":"blue","stroke":"#1f3dff"},"encoding":{"x":{"field":"x","type":"quantitative","axis":null},"y":{"field":"d","type":"quantitative","axis":null}}}
 ]},
 {"layer":[
  {"data":{"name":"bars"},"transform":[{"filter":"datum.r=='V'"}],"mark":{"type":"rect","style":"bar","fill":"#f7931e","stroke":"#4a3520"},"encoding":{"x":{"field":"a","type":"quantitative","scale":{"domain":[0,30],"range":[333,427],"nice":false,"zero":false},"axis":null},"x2":{"field":"b"},"y":{"field":"h","type":"quantitative","scale":{"domain":[0,1],"nice":false,"zero":false},"axis":null},"y2":{"datum":0}}},
  {"data":{"name":"curves"},"transform":[{"filter":"datum.r=='V'"}],"mark":{"type":"line","style":"curve","stroke":"#000"},"encoding":{"x":{"field":"x","type":"quantitative","axis":null},"y":{"field":"y","type":"quantitative","axis":null}}},
  {"data":{"name":"rows"},"transform":[{"filter":"datum.r=='V'"}],"mark":{"type":"rect","style":"frame","stroke":"#666"},"encoding":{"x":{"datum":0,"axis":null},"x2":{"datum":30},"y":{"datum":0,"axis":null},"y2":{"datum":1}}},
  {"data":{"name":"ticks"},"mark":{"type":"text","style":"tick","fill":"#fff","stroke":"#333"},"encoding":{"x":{"field":"t","type":"quantitative","axis":null},"y":{"datum":-0.12,"axis":null},"text":{"field":"t"}}},
  {"data":{"name":"rows"},"transform":[{"filter":"datum.r=='V'"}],"mark":{"type":"text","style":"org","fill":"#c47b3c"},"encoding":{"x":{"datum":45.2,"axis":null},"y":{"datum":0.548,"axis":null},"text":{"field":"o"}}},
  {"data":{"name":"rows"},"transform":[{"filter":"datum.r=='V'"}],"mark":{"type":"text","style":"blk","fill":"#111"},"encoding":{"x":{"datum":45.2,"axis":null},"y":{"datum":0.243,"axis":null},"text":{"field":"b"}}}
 ]}
]},
{"width":488,"height":44,"resolve":{"scale":{"x":"independent","y":"independent"}},"layer":[
 {"layer":[
  {"data":{"name":"spec"},"transform":[{"filter":"datum.r=='VI'"}],"mark":{"type":"line","style":"red","stroke":"#ff2020"},"encoding":{"x":{"field":"x","type":"quantitative","scale":{"domain":[0,62],"range":[58,182],"nice":false,"zero":false},"axis":null},"y":{"field":"s","type":"quantitative","scale":{"domain":[0.2,4.6],"nice":false,"zero":false},"axis":null}}},
  {"data":{"name":"spec"},"transform":[{"filter":"datum.r=='VI'"}],"mark":{"type":"line","style":"blue","stroke":"#1f3dff"},"encoding":{"x":{"field":"x","type":"quantitative","axis":null},"y":{"field":"d","type":"quantitative","axis":null}}},
  {"data":{"name":"rows"},"transform":[{"filter":"datum.r=='VI'"}],"mark":{"type":"text","style":"num"},"encoding":{"x":{"datum":-27.5,"axis":null},"y":{"datum":0.92,"axis":null},"text":{"field":"r"}}},
  {"data":{"name":"rows"},"transform":[{"filter":"datum.r=='VI'"}],"mark":{"type":"text","style":"lab"},"encoding":{"x":{"datum":-5.75,"axis":null},"y":{"datum":0.92,"axis":null},"text":{"field":"lab"}}},
  {"data":{"name":"rows"},"transform":[{"filter":"datum.r=='VI'"}],"mark":{"type":"text","style":"delta"},"encoding":{"x":{"datum":66.75,"axis":null},"y":{"datum":1.09,"axis":null},"text":{"field":"delta"}}}
 ]},
 {"layer":[
  {"data":{"name":"broad"},"transform":[{"filter":"datum.r=='VI'"}],"mark":{"type":"line","style":"red","stroke":"#ff2020"},"encoding":{"x":{"field":"x","type":"quantitative","scale":{"domain":[0,50],"range":[205,322],"nice":false,"zero":false},"axis":null},"y":{"field":"s","type":"quantitative","scale":{"domain":[0.2,4.6],"nice":false,"zero":false},"axis":null}}},
  {"data":{"name":"broad"},"transform":[{"filter":"datum.r=='VI'"}],"mark":{"type":"line","style":"blue","stroke":"#1f3dff"},"encoding":{"x":{"field":"x","type":"quantitative","axis":null},"y":{"field":"d","type":"quantitative","axis":null}}}
 ]},
 {"layer":[
  {"data":{"name":"bars"},"transform":[{"filter":"datum.r=='VI'"}],"mark":{"type":"rect","style":"bar","fill":"#f7931e","stroke":"#4a3520"},"encoding":{"x":{"field":"a","type":"quantitative","scale":{"domain":[0,30],"range":[333,427],"nice":false,"zero":false},"axis":null},"x2":{"field":"b"},"y":{"field":"h","type":"quantitative","scale":{"domain":[0,1],"nice":false,"zero":false},"axis":null},"y2":{"datum":0}}},
  {"data":{"name":"curves"},"transform":[{"filter":"datum.r=='VI'"}],"mark":{"type":"line","style":"curve","stroke":"#000"},"encoding":{"x":{"field":"x","type":"quantitative","axis":null},"y":{"field":"y","type":"quantitative","axis":null}}},
  {"data":{"name":"rows"},"transform":[{"filter":"datum.r=='VI'"}],"mark":{"type":"rect","style":"frame","stroke":"#666"},"encoding":{"x":{"datum":0,"axis":null},"x2":{"datum":30},"y":{"datum":0,"axis":null},"y2":{"datum":1}}},
  {"data":{"name":"ticks"},"mark":{"type":"text","style":"tick","fill":"#fff","stroke":"#333"},"encoding":{"x":{"field":"t","type":"quantitative","axis":null},"y":{"datum":-0.12,"axis":null},"text":{"field":"t"}}},
  {"data":{"name":"rows"},"transform":[{"filter":"datum.r=='VI'"}],"mark":{"type":"text","style":"org","fill":"#c47b3c"},"encoding":{"x":{"datum":45.2,"axis":null},"y":{"datum":0.67,"axis":null},"text":{"field":"o"}}},
  {"data":{"name":"rows"},"transform":[{"filter":"datum.r=='VI'"}],"mark":{"type":"text","style":"blk","fill":"#111"},"encoding":{"x":{"datum":45.2,"axis":null},"y":{"datum":0.352,"axis":null},"text":{"field":"b"}}}
 ]}
]},
{"width":488,"height":44,"resolve":{"scale":{"x":"independent","y":"independent"}},"layer":[
 {"layer":[
  {"data":{"name":"spec"},"transform":[{"filter":"datum.r=='VII'"}],"mark":{"type":"line","style":"red","stroke":"#ff2020"},"encoding":{"x":{"field":"x","type":"quantitative","scale":{"domain":[0,62],"range":[58,182],"nice":false,"zero":false},"axis":null},"y":{"field":"s","type":"quantitative","scale":{"domain":[0.2,4.6],"nice":false,"zero":false},"axis":null}}},
  {"data":{"name":"spec"},"transform":[{"filter":"datum.r=='VII'"}],"mark":{"type":"line","style":"blue","stroke":"#1f3dff"},"encoding":{"x":{"field":"x","type":"quantitative","axis":null},"y":{"field":"d","type":"quantitative","axis":null}}},
  {"data":{"name":"rows"},"transform":[{"filter":"datum.r=='VII'"}],"mark":{"type":"text","style":"num"},"encoding":{"x":{"datum":-27.5,"axis":null},"y":{"datum":1.03,"axis":null},"text":{"field":"r"}}},
  {"data":{"name":"rows"},"transform":[{"filter":"datum.r=='VII'"}],"mark":{"type":"text","style":"lab"},"encoding":{"x":{"datum":-5.75,"axis":null},"y":{"datum":1.03,"axis":null},"text":{"field":"lab"}}},
  {"data":{"name":"rows"},"transform":[{"filter":"datum.r=='VII'"}],"mark":{"type":"text","style":"delta"},"encoding":{"x":{"datum":66.75,"axis":null},"y":{"datum":1.2,"axis":null},"text":{"field":"delta"}}}
 ]},
 {"layer":[
  {"data":{"name":"broad"},"transform":[{"filter":"datum.r=='VII'"}],"mark":{"type":"line","style":"red","stroke":"#ff2020"},"encoding":{"x":{"field":"x","type":"quantitative","scale":{"domain":[0,50],"range":[205,322],"nice":false,"zero":false},"axis":null},"y":{"field":"s","type":"quantitative","scale":{"domain":[0.2,4.6],"nice":false,"zero":false},"axis":null}}},
  {"data":{"name":"broad"},"transform":[{"filter":"datum.r=='VII'"}],"mark":{"type":"line","style":"blue","stroke":"#1f3dff"},"encoding":{"x":{"field":"x","type":"quantitative","axis":null},"y":{"field":"d","type":"quantitative","axis":null}}}
 ]},
 {"layer":[
  {"data":{"name":"bars"},"transform":[{"filter":"datum.r=='VII'"}],"mark":{"type":"rect","style":"bar","fill":"#f7931e","stroke":"#4a3520"},"encoding":{"x":{"field":"a","type":"quantitative","scale":{"domain":[0,30],"range":[333,427],"nice":false,"zero":false},"axis":null},"x2":{"field":"b"},"y":{"field":"h","type":"quantitative","scale":{"domain":[0,1],"nice":false,"zero":false},"axis":null},"y2":{"datum":0}}},
  {"data":{"name":"curves"},"transform":[{"filter":"datum.r=='VII'"}],"mark":{"type":"line","style":"curve","stroke":"#000"},"encoding":{"x":{"field":"x","type":"quantitative","axis":null},"y":{"field":"y","type":"quantitative","axis":null}}},
  {"data":{"name":"rows"},"transform":[{"filter":"datum.r=='VII'"}],"mark":{"type":"rect","style":"frame","stroke":"#666"},"encoding":{"x":{"datum":0,"axis":null},"x2":{"datum":30},"y":{"datum":0,"axis":null},"y2":{"datum":1}}},
  {"data":{"name":"ticks"},"mark":{"type":"text","style":"tick","fill":"#fff","stroke":"#333"},"encoding":{"x":{"field":"t","type":"quantitative","axis":null},"y":{"datum":-0.12,"axis":null},"text":{"field":"t"}}},
  {"data":{"name":"rows"},"transform":[{"filter":"datum.r=='VII'"}],"mark":{"type":"text","style":"org","fill":"#c47b3c"},"encoding":{"x":{"datum":45.2,"axis":null},"y":{"datum":0.607,"axis":null},"text":{"field":"o"}}},
  {"data":{"name":"rows"},"transform":[{"filter":"datum.r=='VII'"}],"mark":{"type":"text","style":"blk","fill":"#111"},"encoding":{"x":{"datum":45.2,"axis":null},"y":{"datum":0.289,"axis":null},"text":{"field":"b"}}}
 ]}
]},
{"width":488,"height":44,"resolve":{"scale":{"x":"independent","y":"independent"}},"layer":[
 {"layer":[
  {"data":{"name":"spec"},"transform":[{"filter":"datum.r=='VIII'"}],"mark":{"type":"line","style":"red","stroke":"#ff2020"},"encoding":{"x":{"field":"x","type":"quantitative","scale":{"domain":[0,62],"range":[58,182],"nice":false,"zero":false},"axis":null},"y":{"field":"s","type":"quantitative","scale":{"domain":[0.2,4.6],"nice":false,"zero":false},"axis":null}}},
  {"data":{"name":"spec"},"transform":[{"filter":"datum.r=='VIII'"}],"mark":{"type":"line","style":"blue","stroke":"#1f3dff"},"encoding":{"x":{"field":"x","type":"quantitative","axis":null},"y":{"field":"d","type":"quantitative","axis":null}}},
  {"data":{"name":"rows"},"transform":[{"filter":"datum.r=='VIII'"}],"mark":{"type":"text","style":"num"},"encoding":{"x":{"datum":-27.5,"axis":null},"y":{"datum":1.31,"axis":null},"text":{"field":"r"}}},
  {"data":{"name":"rows"},"transform":[{"filter":"datum.r=='VIII'"}],"mark":{"type":"text","style":"lab"},"encoding":{"x":{"datum":-5.75,"axis":null},"y":{"datum":1.31,"axis":null},"text":{"field":"lab"}}},
  {"data":{"name":"rows"},"transform":[{"filter":"datum.r=='VIII'"}],"mark":{"type":"text","style":"delta"},"encoding":{"x":{"datum":66.75,"axis":null},"y":{"datum":1.41,"axis":null},"text":{"field":"delta"}}}
 ]},
 {"layer":[
  {"data":{"name":"broad"},"transform":[{"filter":"datum.r=='VIII'"}],"mark":{"type":"line","style":"red","stroke":"#ff2020"},"encoding":{"x":{"field":"x","type":"quantitative","scale":{"domain":[0,50],"range":[205,322],"nice":false,"zero":false},"axis":null},"y":{"field":"s","type":"quantitative","scale":{"domain":[0.2,4.6],"nice":false,"zero":false},"axis":null}}},
  {"data":{"name":"broad"},"transform":[{"filter":"datum.r=='VIII'"}],"mark":{"type":"line","style":"blue","stroke":"#1f3dff"},"encoding":{"x":{"field":"x","type":"quantitative","axis":null},"y":{"field":"d","type":"quantitative","axis":null}}}
 ]},
 {"layer":[
  {"data":{"name":"bars"},"transform":[{"filter":"datum.r=='VIII'"}],"mark":{"type":"rect","style":"bar","fill":"#f7931e","stroke":"#4a3520"},"encoding":{"x":{"field":"a","type":"quantitative","scale":{"domain":[0,30],"range":[333,427],"nice":false,"zero":false},"axis":null},"x2":{"field":"b"},"y":{"field":"h","type":"quantitative","scale":{"domain":[0,1],"nice":false,"zero":false},"axis":null},"y2":{"datum":0}}},
  {"data":{"name":"curves"},"transform":[{"filter":"datum.r=='VIII'"}],"mark":{"type":"line","style":"curve","stroke":"#000"},"encoding":{"x":{"field":"x","type":"quantitative","axis":null},"y":{"field":"y","type":"quantitative","axis":null}}},
  {"data":{"name":"rows"},"transform":[{"filter":"datum.r=='VIII'"}],"mark":{"type":"rect","style":"frame","stroke":"#666"},"encoding":{"x":{"datum":0,"axis":null},"x2":{"datum":30},"y":{"datum":0,"axis":null},"y2":{"datum":1}}},
  {"data":{"name":"ticks"},"mark":{"type":"text","style":"tick","fill":"#fff","stroke":"#333"},"encoding":{"x":{"field":"t","type":"quantitative","axis":null},"y":{"datum":-0.12,"axis":null},"text":{"field":"t"}}},
  {"data":{"name":"rows"},"transform":[{"filter":"datum.r=='VIII'"}],"mark":{"type":"text","style":"org","fill":"#c47b3c"},"encoding":{"x":{"datum":45.2,"axis":null},"y":{"datum":0.616,"axis":null},"text":{"field":"o"}}},
  {"data":{"name":"rows"},"transform":[{"filter":"datum.r=='VIII'"}],"mark":{"type":"text","style":"blk","fill":"#111"},"encoding":{"x":{"datum":45.2,"axis":null},"y":{"datum":0.291,"axis":null},"text":{"field":"b"}}}
 ]}
]},
{"width":488,"height":44,"resolve":{"scale":{"x":"independent","y":"independent"}},"layer":[
 {"layer":[
  {"data":{"name":"spec"},"transform":[{"filter":"datum.r=='IX'"}],"mark":{"type":"line","style":"red","stroke":"#ff2020"},"encoding":{"x":{"field":"x","type":"quantitative","scale":{"domain":[0,62],"range":[58,182],"nice":false,"zero":false},"axis":null},"y":{"field":"s","type":"quantitative","scale":{"domain":[0.2,4.6],"nice":false,"zero":false},"axis":null}}},
  {"data":{"name":"spec"},"transform":[{"filter":"datum.r=='IX'"}],"mark":{"type":"line","style":"blue","stroke":"#1f3dff"},"encoding":{"x":{"field":"x","type":"quantitative","axis":null},"y":{"field":"d","type":"quantitative","axis":null}}},
  {"data":{"name":"rows"},"transform":[{"filter":"datum.r=='IX'"}],"mark":{"type":"text","style":"num"},"encoding":{"x":{"datum":-27.5,"axis":null},"y":{"datum":1.13,"axis":null},"text":{"field":"r"}}},
  {"data":{"name":"rows"},"transform":[{"filter":"datum.r=='IX'"}],"mark":{"type":"text","style":"lab"},"encoding":{"x":{"datum":-5.75,"axis":null},"y":{"datum":1.13,"axis":null},"text":{"field":"lab"}}},
  {"data":{"name":"rows"},"transform":[{"filter":"datum.r=='IX'"}],"mark":{"type":"text","style":"delta"},"encoding":{"x":{"datum":66.75,"axis":null},"y":{"datum":1.29,"axis":null},"text":{"field":"delta"}}}
 ]},
 {"layer":[
  {"data":{"name":"broad"},"transform":[{"filter":"datum.r=='IX'"}],"mark":{"type":"line","style":"red","stroke":"#ff2020"},"encoding":{"x":{"field":"x","type":"quantitative","scale":{"domain":[0,50],"range":[205,322],"nice":false,"zero":false},"axis":null},"y":{"field":"s","type":"quantitative","scale":{"domain":[0.2,4.6],"nice":false,"zero":false},"axis":null}}},
  {"data":{"name":"broad"},"transform":[{"filter":"datum.r=='IX'"}],"mark":{"type":"line","style":"blue","stroke":"#1f3dff"},"encoding":{"x":{"field":"x","type":"quantitative","axis":null},"y":{"field":"d","type":"quantitative","axis":null}}}
 ]},
 {"layer":[
  {"data":{"name":"bars"},"transform":[{"filter":"datum.r=='IX'"}],"mark":{"type":"rect","style":"bar","fill":"#f7931e","stroke":"#4a3520"},"encoding":{"x":{"field":"a","type":"quantitative","scale":{"domain":[0,30],"range":[333,427],"nice":false,"zero":false},"axis":null},"x2":{"field":"b"},"y":{"field":"h","type":"quantitative","scale":{"domain":[0,1],"nice":false,"zero":false},"axis":null},"y2":{"datum":0}}},
  {"data":{"name":"curves"},"transform":[{"filter":"datum.r=='IX'"}],"mark":{"type":"line","style":"curve","stroke":"#000"},"encoding":{"x":{"field":"x","type":"quantitative","axis":null},"y":{"field":"y","type":"quantitative","axis":null}}},
  {"data":{"name":"rows"},"transform":[{"filter":"datum.r=='IX'"}],"mark":{"type":"rect","style":"frame","stroke":"#666"},"encoding":{"x":{"datum":0,"axis":null},"x2":{"datum":30},"y":{"datum":0,"axis":null},"y2":{"datum":1}}},
  {"data":{"name":"ticks"},"mark":{"type":"text","style":"tick","fill":"#fff","stroke":"#333"},"encoding":{"x":{"field":"t","type":"quantitative","axis":null},"y":{"datum":-0.12,"axis":null},"text":{"field":"t"}}},
  {"data":{"name":"rows"},"transform":[{"filter":"datum.r=='IX'"}],"mark":{"type":"text","style":"org","fill":"#c47b3c"},"encoding":{"x":{"datum":45.2,"axis":null},"y":{"datum":0.65,"axis":null},"text":{"field":"o"}}},
  {"data":{"name":"rows"},"transform":[{"filter":"datum.r=='IX'"}],"mark":{"type":"text","style":"blk","fill":"#111"},"encoding":{"x":{"datum":45.2,"axis":null},"y":{"datum":0.325,"axis":null},"text":{"field":"b"}}}
 ]}
]},
{"width":488,"height":44,"resolve":{"scale":{"x":"independent","y":"independent"}},"layer":[
 {"layer":[
  {"data":{"name":"spec"},"transform":[{"filter":"datum.r=='X'"}],"mark":{"type":"line","style":"red","stroke":"#ff2020"},"encoding":{"x":{"field":"x","type":"quantitative","scale":{"domain":[0,62],"range":[58,182],"nice":false,"zero":false},"axis":null},"y":{"field":"s","type":"quantitative","scale":{"domain":[0.2,4.6],"nice":false,"zero":false},"axis":null}}},
  {"data":{"name":"spec"},"transform":[{"filter":"datum.r=='X'"}],"mark":{"type":"line","style":"blue","stroke":"#1f3dff"},"encoding":{"x":{"field":"x","type":"quantitative","axis":null},"y":{"field":"d","type":"quantitative","axis":null}}},
  {"data":{"name":"rows"},"transform":[{"filter":"datum.r=='X'"}],"mark":{"type":"text","style":"num"},"encoding":{"x":{"datum":-27.5,"axis":null},"y":{"datum":1.17,"axis":null},"text":{"field":"r"}}},
  {"data":{"name":"rows"},"transform":[{"filter":"datum.r=='X'"}],"mark":{"type":"text","style":"lab"},"encoding":{"x":{"datum":-5.75,"axis":null},"y":{"datum":1.17,"axis":null},"text":{"field":"lab"}}},
  {"data":{"name":"rows"},"transform":[{"filter":"datum.r=='X'"}],"mark":{"type":"text","style":"delta"},"encoding":{"x":{"datum":66.75,"axis":null},"y":{"datum":1.34,"axis":null},"text":{"field":"delta"}}}
 ]},
 {"layer":[
  {"data":{"name":"broad"},"transform":[{"filter":"datum.r=='X'"}],"mark":{"type":"line","style":"red","stroke":"#ff2020"},"encoding":{"x":{"field":"x","type":"quantitative","scale":{"domain":[0,50],"range":[205,322],"nice":false,"zero":false},"axis":null},"y":{"field":"s","type":"quantitative","scale":{"domain":[0.2,4.6],"nice":false,"zero":false},"axis":null}}},
  {"data":{"name":"broad"},"transform":[{"filter":"datum.r=='X'"}],"mark":{"type":"line","style":"blue","stroke":"#1f3dff"},"encoding":{"x":{"field":"x","type":"quantitative","axis":null},"y":{"field":"d","type":"quantitative","axis":null}}}
 ]},
 {"layer":[
  {"data":{"name":"bars"},"transform":[{"filter":"datum.r=='X'"}],"mark":{"type":"rect","style":"bar","fill":"#f7931e","stroke":"#4a3520"},"encoding":{"x":{"field":"a","type":"quantitative","scale":{"domain":[0,30],"range":[333,427],"nice":false,"zero":false},"axis":null},"x2":{"field":"b"},"y":{"field":"h","type":"quantitative","scale":{"domain":[0,1],"nice":false,"zero":false},"axis":null},"y2":{"datum":0}}},
  {"data":{"name":"curves"},"transform":[{"filter":"datum.r=='X'"}],"mark":{"type":"line","style":"curve","stroke":"#000"},"encoding":{"x":{"field":"x","type":"quantitative","axis":null},"y":{"field":"y","type":"quantitative","axis":null}}},
  {"data":{"name":"rows"},"transform":[{"filter":"datum.r=='X'"}],"mark":{"type":"rect","style":"frame","stroke":"#666"},"encoding":{"x":{"datum":0,"axis":null},"x2":{"datum":30},"y":{"datum":0,"axis":null},"y2":{"datum":1}}},
  {"data":{"name":"ticks"},"mark":{"type":"text","style":"tick","fill":"#fff","stroke":"#333"},"encoding":{"x":{"field":"t","type":"quantitative","axis":null},"y":{"datum":-0.12,"axis":null},"text":{"field":"t"}}},
  {"data":{"name":"rows"},"transform":[{"filter":"datum.r=='X'"}],"mark":{"type":"text","style":"org","fill":"#c47b3c"},"encoding":{"x":{"datum":45.2,"axis":null},"y":{"datum":0.639,"axis":null},"text":{"field":"o"}}},
  {"data":{"name":"rows"},"transform":[{"filter":"datum.r=='X'"}],"mark":{"type":"text","style":"blk","fill":"#111"},"encoding":{"x":{"datum":45.2,"axis":null},"y":{"datum":0.32,"axis":null},"text":{"field":"b"}}}
 ]}
]},
{"width":488,"height":44,"resolve":{"scale":{"x":"independent","y":"independent"}},"layer":[
 {"layer":[
  {"data":{"name":"spec"},"transform":[{"filter":"datum.r=='XI'"}],"mark":{"type":"line","style":"red","stroke":"#ff2020"},"encoding":{"x":{"field":"x","type":"quantitative","scale":{"domain":[0,62],"range":[58,182],"nice":false,"zero":false},"axis":null},"y":{"field":"s","type":"quantitative","scale":{"domain":[0.2,4.6],"nice":false,"zero":false},"axis":null}}},
  {"data":{"name":"spec"},"transform":[{"filter":"datum.r=='XI'"}],"mark":{"type":"line","style":"blue","stroke":"#1f3dff"},"encoding":{"x":{"field":"x","type":"quantitative","axis":null},"y":{"field":"d","type":"quantitative","axis":null}}},
  {"data":{"name":"rows"},"transform":[{"filter":"datum.r=='XI'"}],"mark":{"type":"text","style":"num"},"encoding":{"x":{"datum":-27.5,"axis":null},"y":{"datum":1.45,"axis":null},"text":{"field":"r"}}},
  {"data":{"name":"rows"},"transform":[{"filter":"datum.r=='XI'"}],"mark":{"type":"text","style":"lab"},"encoding":{"x":{"datum":-5.75,"axis":null},"y":{"datum":1.45,"axis":null},"text":{"field":"lab"}}},
  {"data":{"name":"rows"},"transform":[{"filter":"datum.r=='XI'"}],"mark":{"type":"text","style":"delta"},"encoding":{"x":{"datum":66.75,"axis":null},"y":{"datum":1.45,"axis":null},"text":{"field":"delta"}}}
 ]},
 {"layer":[
  {"data":{"name":"broad"},"transform":[{"filter":"datum.r=='XI'"}],"mark":{"type":"line","style":"red","stroke":"#ff2020"},"encoding":{"x":{"field":"x","type":"quantitative","scale":{"domain":[0,50],"range":[205,322],"nice":false,"zero":false},"axis":null},"y":{"field":"s","type":"quantitative","scale":{"domain":[0.2,4.6],"nice":false,"zero":false},"axis":null}}},
  {"data":{"name":"broad"},"transform":[{"filter":"datum.r=='XI'"}],"mark":{"type":"line","style":"blue","stroke":"#1f3dff"},"encoding":{"x":{"field":"x","type":"quantitative","axis":null},"y":{"field":"d","type":"quantitative","axis":null}}}
 ]},
 {"layer":[
  {"data":{"name":"bars"},"transform":[{"filter":"datum.r=='XI'"}],"mark":{"type":"rect","style":"bar","fill":"#f7931e","stroke":"#4a3520"},"encoding":{"x":{"field":"a","type":"quantitative","scale":{"domain":[0,30],"range":[333,427],"nice":false,"zero":false},"axis":null},"x2":{"field":"b"},"y":{"field":"h","type":"quantitative","scale":{"domain":[0,1],"nice":false,"zero":false},"axis":null},"y2":{"datum":0}}},
  {"data":{"name":"curves"},"transform":[{"filter":"datum.r=='XI'"}],"mark":{"type":"line","style":"curve","stroke":"#000"},"encoding":{"x":{"field":"x","type":"quantitative","axis":null},"y":{"field":"y","type":"quantitative","axis":null}}},
  {"data":{"name":"rows"},"transform":[{"filter":"datum.r=='XI'"}],"mark":{"type":"rect","style":"frame","stroke":"#666"},"encoding":{"x":{"datum":0,"axis":null},"x2":{"datum":30},"y":{"datum":0,"axis":null},"y2":{"datum":1}}},
  {"data":{"name":"ticks"},"mark":{"type":"text","style":"tick","fill":"#fff","stroke":"#333"},"encoding":{"x":{"field":"t","type":"quantitative","axis":null},"y":{"datum":-0.12,"axis":null},"text":{"field":"t"}}},
  {"data":{"name":"rows"},"transform":[{"filter":"datum.r=='XI'"}],"mark":{"type":"text","style":"org","fill":"#c47b3c"},"encoding":{"x":{"datum":45.2,"axis":null},"y":{"datum":0.686,"axis":null},"text":{"field":"o"}}},
  {"data":{"name":"rows"},"transform":[{"filter":"datum.r=='XI'"}],"mark":{"type":"text","style":"blk","fill":"#111"},"encoding":{"x":{"datum":45.2,"axis":null},"y":{"datum":0.345,"axis":null},"text":{"field":"b"}}}
 ]}
]},
{"width":488,"height":27,"data":{"name":"legendBottom"},
 "encoding":{"x":{"field":"grp","type":"nominal","scale":{"type":"point","domain":["distance"],"align":0.8607},"axis":null},
  "y":{"field":"n","type":"nominal","scale":{"type":"point","domain":["1","2"],"padding":0.294},"axis":null}},
 "layer":[
  {"transform":[{"filter":"datum.n=='1'"}],"mark":{"type":"point","shape":"M-1,-0.17 L1,-0.17 L1,0.17 L-1,0.17 Z","size":576,"filled":true,"fill":"#f7931e","stroke":"#5a3a1a","strokeWidth":0.6,"opacity":1}},
  {"transform":[{"filter":"datum.n=='2'"}],"mark":{"type":"point","shape":"M-1,0.05 C-0.7,-0.35 -0.3,-0.35 0,0 C0.3,0.35 0.7,0.35 1,-0.05","size":484,"filled":false,"stroke":"#000","strokeWidth":2.4,"opacity":1}},
  {"mark":{"type":"text","align":"right","baseline":"middle","dx":-20,"fontSize":11.5,"fill":"#111"},"encoding":{"text":{"field":"lbl"}}}
 ]},
{"width":488,"height":11.2,"data":{"values":[{}]},"mark":{"type":"rule","stroke":"#9fb3cf","strokeWidth":2},
 "encoding":{"x":{"datum":0.0553,"scale":{"domain":[0,1],"nice":false},"axis":null},"x2":{"datum":0.9057},"y":{"datum":0,"scale":{"domain":[0,1],"nice":false},"axis":null}}}
]
}
